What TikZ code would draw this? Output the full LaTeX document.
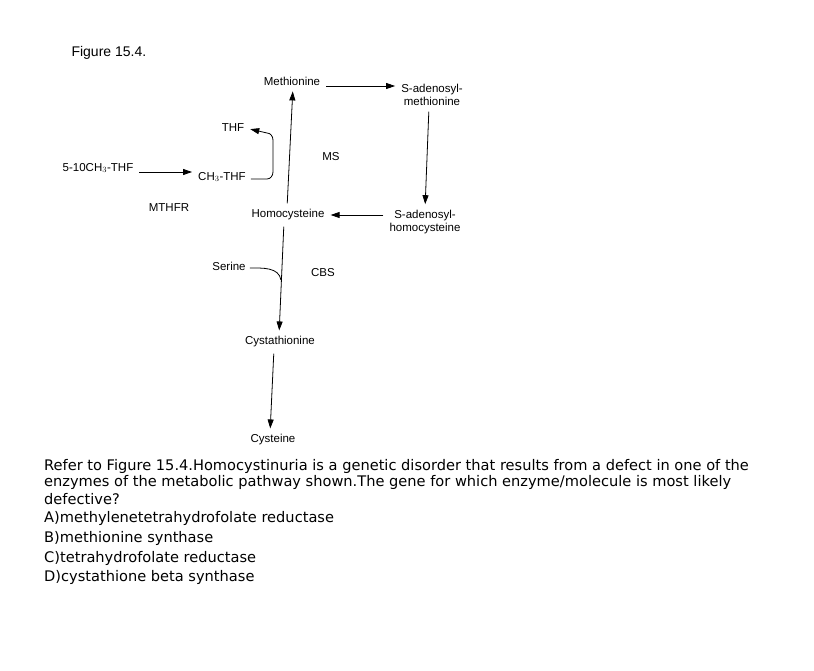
\documentclass[tikz,border=0pt]{standalone}
\usepackage{fontspec}
\setmainfont{Liberation Sans}
\newfontfamily\qfont{DejaVu Sans}
\usetikzlibrary{arrows.meta}
\tikzset{met/.style={font=\fontsize{11.5}{12.5}\selectfont,align=center,inner sep=1pt},
  rxn/.style={-{Triangle[length=9pt,width=6pt]},thick,shorten >=5pt,shorten <=5pt},
  qline/.style={anchor=west,inner sep=0pt,font=\qfont\fontsize{14.6}{15}\selectfont}}
\begin{document}
\begin{tikzpicture}[x=1pt,y=-1pt]
\useasboundingbox[fill=white] (0,0) rectangle (814,671);
\node[anchor=west,font=\fontsize{14}{14}\selectfont] (fig) at (68,53) {Figure 15.4.};
\node[met] (met) at (292,81) {Methionine};
\node[met] (sam) at (432,95) {S-adenosyl-\\methionine};
\node[met] (thf) at (233,128) {THF};
\node[met] (ms) at (331,157) {MS};
\node[met] (mthf) at (98,168) {5-10CH$_3$-THF};
\node[met] (ch3) at (222,177) {CH$_3$-THF};
\node[met] (mthfr) at (169,208) {MTHFR};
\node[met] (hcy) at (288,215) {Homocysteine};
\node[met] (sah) at (425,222) {S-adenosyl-\\homocysteine};
\node[met] (ser) at (229,266) {Serine};
\node[met] (cbs) at (323,273) {CBS};
\node[met] (cys) at (280,342) {Cystathionine};
\node[met] (cyst) at (273,440) {Cysteine};
\coordinate (join) at (281,280);
\draw[rxn] (met.east |- 0,86) -- (sam.west |- 0,86);
\draw[rxn] (429,0 |- sam.south) -- (425,0 |- sah.north);
\draw[rxn] (sah.west |- 0,215) -- (hcy.east);
\draw[rxn] (287,0 |- hcy.north) -- (293,0 |- met.south);
\draw[rxn] (mthf.east |- 0,172) -- (ch3.west |- 0,172);
\draw[thick,-{Triangle[length=9pt,width=6pt]},shorten >=5pt] (ch3.east) ++(4,2) -- ++(16,0) to[out=0,in=-90] ++(6,-7) -- ++(0,-32) to[out=90,in=0] ++(-6,-7) -- (thf.east);
\draw[rxn] (284,0 |- hcy.south) -- (279,0 |- cys.north);
\draw[thick] (ser.east) ++(3,2) to[out=0,in=100] (join);
\draw[rxn] (274,0 |- cys.south) -- (270,0 |- cyst.north);
\node[qline] (q1) at (44,466) {Refer to Figure 15.4.Homocystinuria is a genetic disorder that results from a defect in one of the};
\node[qline] (q2) at (44,482) {enzymes of the metabolic pathway shown.The gene for which enzyme/molecule is most likely};
\node[qline] (q3) at (44,499) {defective?};
\node[qline] (qa) at (44,518) {A)methylenetetrahydrofolate reductase};
\node[qline] (qb) at (44,538) {B)methionine synthase};
\node[qline] (qc) at (44,558) {C)tetrahydrofolate reductase};
\node[qline] (qd) at (44,577) {D)cystathione beta synthase};
\end{tikzpicture}
\end{document}
